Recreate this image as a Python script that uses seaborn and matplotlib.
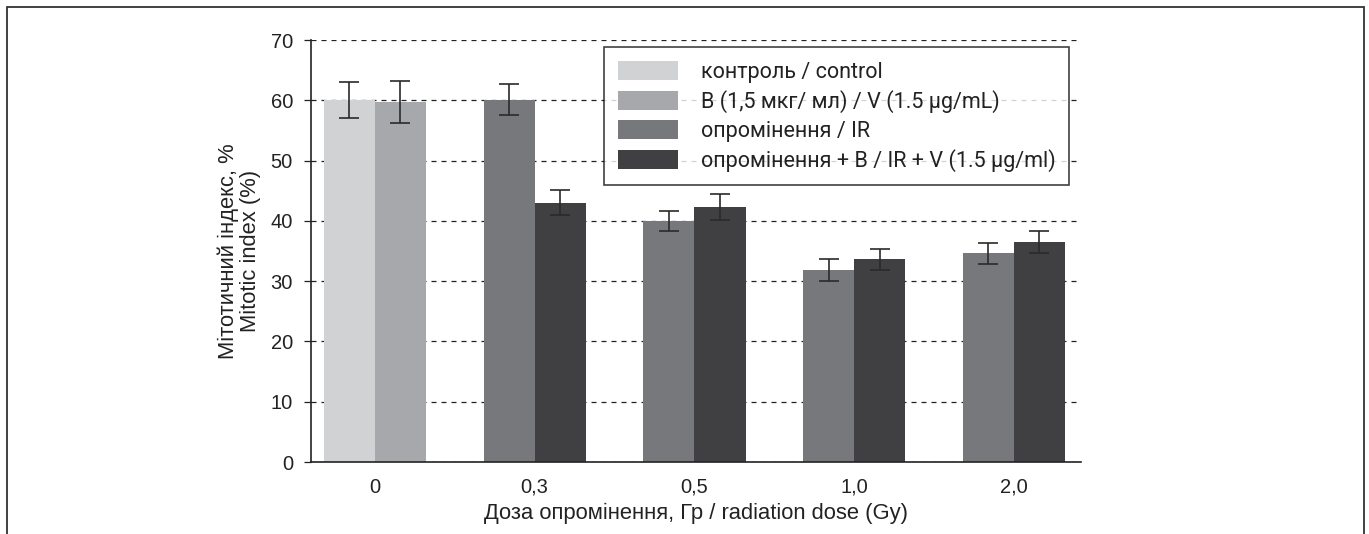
import numpy as np
import pandas as pd
import seaborn as sns
import matplotlib
matplotlib.use("Agg")
import matplotlib.pyplot as plt
from matplotlib.patches import Patch, Rectangle

# ---- data ----
doses = ["0", "0,3", "0,5", "1,0", "2,0"]
series_names = [
    "контроль / control",
    "B (1,5 мкг/ мл) / V (1.5 µg/mL)",
    "опромінення / IR",
    "опромінення + B / IR + V (1.5 µg/ml)",
]
# left bar and right bar of each dose group
left_series = [0, 2, 2, 2, 2]
right_series = [1, 3, 3, 3, 3]
left_values = [60.0, 60.1, 40.0, 31.8, 34.6]
right_values = [59.7, 43.0, 42.3, 33.6, 36.5]
left_err = [3.0, 2.6, 1.7, 1.8, 1.7]
right_err = [3.5, 2.1, 2.2, 1.8, 1.85]
colors = ["#d1d2d4", "#a7a8ab", "#77787b", "#404042"]

df = pd.DataFrame({
    "dose": doses * 2,
    "slot": ["L"] * len(doses) + ["R"] * len(doses),
    "value": left_values + right_values,
    "err": left_err + right_err,
    "series": left_series + right_series,
})

sns.set_style("white")
plt.rcParams["font.family"] = ["Liberation Sans", "DejaVu Sans"]

fig = plt.figure(figsize=(13.69, 5.34), dpi=100)
ax = fig.add_axes([311 / 1369, 72 / 534, 770 / 1369, 422 / 534])

sns.barplot(data=df, x="dose", y="value", hue="slot", order=doses,
            hue_order=["L", "R"], dodge=True, width=0.64, errorbar=None,
            legend=False, ax=ax, saturation=1, zorder=2)

# recolor bars and add error bars
bars = [p for p in ax.patches if isinstance(p, Rectangle)]
for slot_i, slot in enumerate(["L", "R"]):
    sub = df[df["slot"] == slot].set_index("dose").loc[doses]
    for j, d in enumerate(doses):
        p = bars[slot_i * len(doses) + j]
        p.set_facecolor(colors[int(sub.loc[d, "series"])])
        p.set_edgecolor("none")
        cx = p.get_x() + p.get_width() / 2
        ax.errorbar(cx, p.get_height(), yerr=sub.loc[d, "err"], fmt="none",
                    ecolor="#2a2a2a", elinewidth=1.2, capsize=7, capthick=1.2,
                    zorder=3)

ax.set_xlim(-0.4, 4.42)
ax.set_ylim(0, 70)
ax.set_yticks(range(0, 71, 10))
ax.yaxis.grid(True, linestyle=(0, (4, 4)), color="#222222", linewidth=0.9)
ax.set_axisbelow(True)
for s in ["top", "right"]:
    ax.spines[s].set_visible(False)
for s in ["left", "bottom"]:
    ax.spines[s].set_color("#222222")
    ax.spines[s].set_linewidth(1.2)
ax.tick_params(axis="y", left=True, length=5, width=0.9, color="#222222",
               labelsize=14.5, labelcolor="#222222", pad=8)
ax.tick_params(axis="x", bottom=False, labelsize=14.5, labelcolor="#222222", pad=8)

ax.set_xlabel("Доза опромінення, Гр / radiation dose (Gy)", fontsize=15.8,
              color="#222222", labelpad=4)
ax.set_ylabel("Мітотичний індекс, %\nMitotic index (%)", fontsize=15.8,
              color="#222222", labelpad=7, linespacing=1.05)

handles = [Patch(facecolor=c, edgecolor="none") for c in colors]
leg = ax.legend(handles, series_names, loc="upper right",
                bbox_to_anchor=(0.984, 0.983), borderaxespad=0,
                frameon=True, fancybox=False, edgecolor="#111111",
                prop={"family": ["Roboto", "DejaVu Sans"], "size": 15.5},
                handlelength=2.8, handleheight=1.0, handletextpad=1.05,
                labelspacing=0.33, borderpad=0.62)
leg.get_frame().set_linewidth(1.2)
for t in leg.get_texts():
    t.set_color("#222222")

# outer frame (open at bottom)
fig.patches.append(Rectangle((7 / 1369, -0.05), 1357 / 1369, (527 / 534) + 0.05,
                             transform=fig.transFigure, fill=False,
                             edgecolor="#333333", linewidth=1.3))

fig.savefig("out.png", dpi=100)
